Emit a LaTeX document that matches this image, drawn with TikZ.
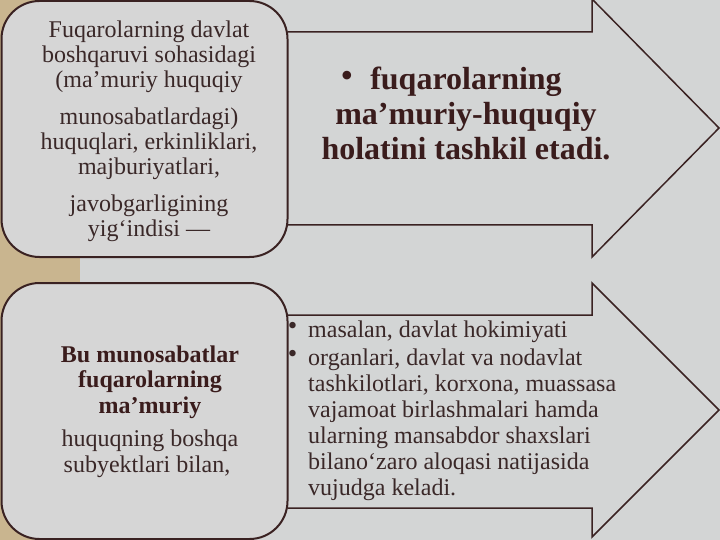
\documentclass[tikz,border=0pt]{standalone}
\usepackage{fontspec}
\setmainfont{Liberation Serif}
\definecolor{bgcol}{HTML}{D3D5D5}
\definecolor{tancol}{HTML}{C9B58F}
\definecolor{boxfill}{HTML}{D6D6D6}
\definecolor{edgecol}{HTML}{3A2222}
\definecolor{txtcol}{HTML}{3A2828}
\definecolor{boldcol}{HTML}{3A1C1C}
\newcommand{\bigbul}{\llap{\fontsize{36}{36}\mdseries\selectfont\raisebox{2pt}{•}\hspace{17pt}}}
\newcommand{\smallbul}{\llap{\fontsize{27}{27}\selectfont\raisebox{3pt}{•}\hspace{11pt}}}
\begin{document}
\begin{tikzpicture}[x=1pt,y=-1pt,
  arrowline/.style={draw=edgecol, line width=1.5pt, line join=miter},
  roundbox/.style={draw=edgecol, fill=boxfill, line width=2pt, rounded corners=38pt},
  txt/.style={text=txtcol, inner sep=0pt}]
\useasboundingbox (0,0) rectangle (720,540);
\fill[bgcol] (0,0) rectangle (720,540);
\fill[tancol] (0,0) rectangle (80,540);
% arrows
\draw[arrowline] (288,32) -- (592,32) -- (592,-1) -- (719,128) -- (592,257) -- (592,225) -- (288,225);
\draw[arrowline] (288,315) -- (592,315) -- (592,283) -- (719,410) -- (592,537) -- (592,508) -- (288,508);
% boxes
\draw[roundbox] (1.5,1) rectangle (287.5,257);
\draw[roundbox] (1.5,283) rectangle (287.5,539);
% texts
\node[txt, anchor=north, align=center, font=\fontsize{24}{25}\selectfont] (t1) at (149,20.6)
 {Fuqarolarning davlat\\ boshqaruvi sohasidagi\\ (ma’muriy huquqiy\\[12pt] munosabatlardagi)\\ huquqlari, erkinliklari,\\ majburiyatlari,\\[12pt] javobgarligining\\ yig‘indisi —};
\node[txt, text=boldcol, anchor=north, align=center, font=\fontsize{32}{35}\selectfont\bfseries] (t2) at (466,67)
 {\bigbul fuqarolarning\\ ma’muriy-huquqiy\\ holatini tashkil etadi.};
\node[txt, anchor=north, align=center, font=\fontsize{24}{25.5}\selectfont] (t3) at (150,345.6)
 {{\color{boldcol}\bfseries Bu munosabatlar}\\ {\color{boldcol}\bfseries fuqarolarning}\\ {\color{boldcol}\bfseries ma’muriy}\\[8pt] huquqning boshqa\\ subyektlari bilan,\hspace*{6pt}};
\node[txt, anchor=north west, align=left, font=\fontsize{24}{26}\selectfont] (t4) at (308,320.6)
 {\smallbul masalan, davlat hokimiyati\\[2pt] \smallbul organlari, davlat va nodavlat\\ tashkilotlari, korxona, muassasa\\ vajamoat birlashmalari hamda\\ ularning mansabdor shaxslari\\ bilano‘zaro aloqasi natijasida\\ vujudga keladi.};
\end{tikzpicture}
\end{document}
